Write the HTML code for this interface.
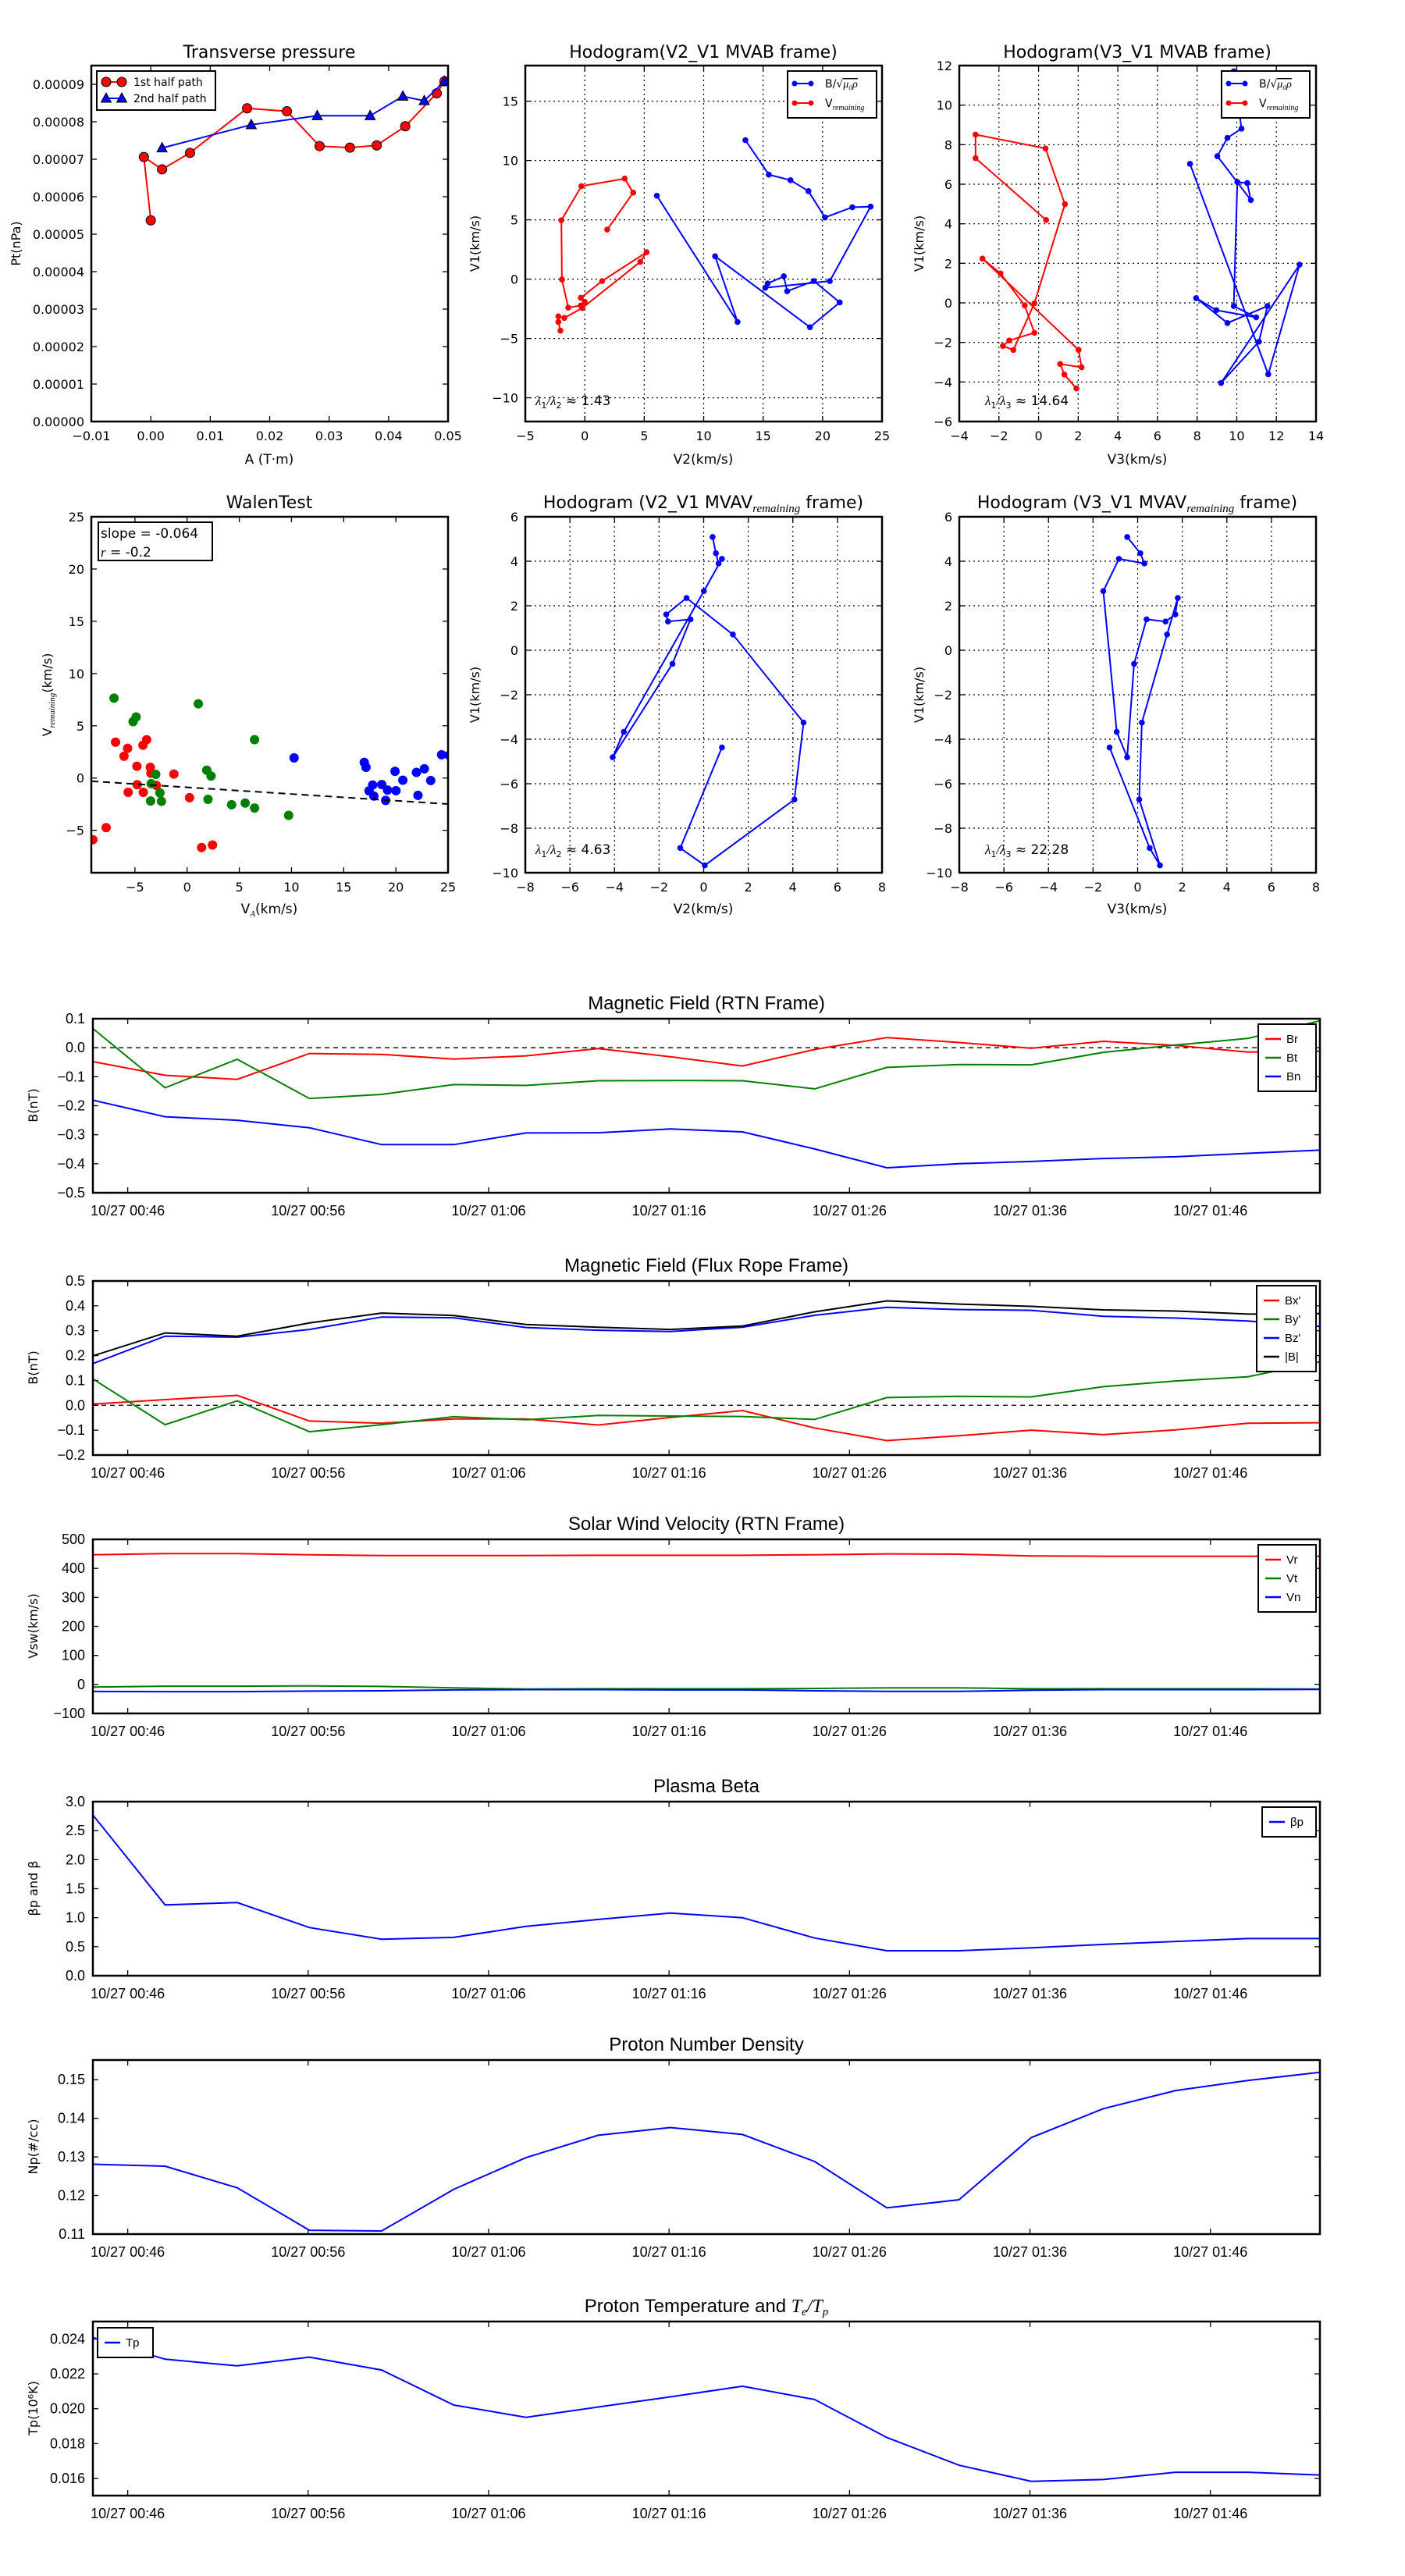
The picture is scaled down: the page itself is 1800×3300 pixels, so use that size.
<!DOCTYPE html>
<html>
<head>
<meta charset="utf-8">
<style>
html,body{margin:0;padding:0;background:#fff;}
svg{display:block;}
.t{font-family:"DejaVu Sans","Liberation Sans",sans-serif;fill:#000;}
.n{font-family:"Liberation Sans Narrow","Liberation Sans","DejaVu Sans",sans-serif;fill:#000;}
</style>
</head>
<body>
<svg id="fig" xmlns="http://www.w3.org/2000/svg" width="1800" height="3300" viewBox="0 0 1800 3300">
<rect x="0" y="0" width="1800" height="3300" fill="#fff"/>
</svg>
<script>
// ---------- Transverse pressure ----------
const ptRedA = [0.0000,-0.00116,0.0019,0.0066,0.0162,0.0229,0.0284,0.0335,0.0380,0.0428,0.0481,0.0494];
const ptRedP = [5.37e-5,7.06e-5,6.73e-5,7.17e-5,8.36e-5,8.28e-5,7.35e-5,7.31e-5,7.37e-5,7.88e-5,8.76e-5,9.08e-5];
const ptBlueA = [0.0019,0.0169,0.0280,0.0369,0.0424,0.0460,0.0494];
const ptBlueP = [7.30e-5,7.92e-5,8.16e-5,8.16e-5,8.68e-5,8.56e-5,9.08e-5];
const ptXTicks = [-0.01,0,0.01,0.02,0.03,0.04,0.05];
const ptXLabels = ["\u22120.01","0.00","0.01","0.02","0.03","0.04","0.05"];
const ptYTicks = [0,1e-5,2e-5,3e-5,4e-5,5e-5,6e-5,7e-5,8e-5,9e-5];
const ptYLabels = ["0.00000","0.00001","0.00002","0.00003","0.00004","0.00005","0.00006","0.00007","0.00008","0.00009"];
// ---------- Hodogram V2_V1 MVAB ----------
const h1BlueX = [6.06,12.85,10.96,18.94,21.44,19.27,17.02,16.74,15.38,15.18,20.61,24.04,22.50,20.20,18.81,17.30,15.48,13.51];
const h1BlueY = [7.03,-3.61,1.93,-4.05,-1.96,-0.16,-1.02,0.24,-0.37,-0.73,-0.16,6.11,6.06,5.20,7.42,8.34,8.81,11.71];
const h1RedX = [1.89,4.07,3.36,-0.28,-1.97,-1.92,-1.39,-0.33,0.00,-0.33,1.46,5.20,4.67,-0.20,-1.72,-2.22,-2.22,-2.05];
const h1RedY = [4.18,7.29,8.47,7.84,4.96,-0.03,-2.40,-2.22,-1.91,-1.57,-0.16,2.27,1.46,-2.43,-3.27,-3.14,-3.61,-4.34];
const h1XTicks = [-5,0,5,10,15,20,25];
const h1YTicks = [-10,-5,0,5,10,15];
// ---------- Hodogram V3_V1 MVAB ----------
const h2BlueX = [7.64,11.59,13.17,9.21,11.12,11.55,9.53,7.95,8.97,10.98,9.85,10.03,10.53,10.71,9.02,9.53,10.24,9.85];
const h2BlueY = [7.03,-3.61,1.93,-4.05,-1.96,-0.16,-1.02,0.24,-0.37,-0.73,-0.16,6.11,6.06,5.20,7.42,8.34,8.81,11.71];
const h2RedX = [0.38,-3.18,-3.18,0.35,1.33,-0.21,-1.27,-1.80,-1.48,-0.21,-0.70,-1.92,-2.83,2.02,2.17,1.09,1.30,1.91];
const h2RedY = [4.19,7.32,8.51,7.81,4.99,-0.02,-2.38,-2.18,-1.90,-1.51,-0.13,1.49,2.24,-2.38,-3.26,-3.09,-3.62,-4.33];
const h2XTicks = [-4,-2,0,2,4,6,8,10,12,14];
const h2YTicks = [-6,-4,-2,0,2,4,6,8,10,12];
// ---------- Walen test ----------
const wRedX = [-9.03,-7.76,-6.86,-5.70,-6.05,-4.81,-4.23,-3.88,-3.53,-3.47,-4.78,-5.65,-4.20,-2.95,-1.27,0.23,1.39,2.43];
const wRedY = [-5.90,-4.75,3.43,2.84,2.09,1.13,3.14,3.67,1.02,0.46,-0.64,-1.37,-1.37,-0.70,0.38,-1.88,-6.65,-6.41];
const wGreenX = [-7.01,-5.18,-4.89,-3.01,-3.45,-2.61,-2.46,-3.50,1.07,1.88,2.29,2.00,4.26,5.56,6.46,6.46,9.73];
const wGreenY = [7.64,5.39,5.84,0.35,-0.54,-1.42,-2.23,-2.20,7.10,0.75,0.19,-2.04,-2.55,-2.39,3.67,-2.87,-3.57];
const wBlueX = [10.25,16.97,17.14,17.78,17.43,17.89,18.65,19.02,19.20,19.92,20.01,20.67,21.97,22.12,22.73,23.34,24.38,25.1];
const wBlueY = [1.93,1.50,1.02,-0.67,-1.23,-1.72,-0.62,-2.14,-1.15,0.64,-1.21,-0.21,0.54,-1.66,0.88,-0.24,2.23,2.17];
const wSlope = [-0.064];
const wIntercept = [-0.89];
const wXTicks = [-5,0,5,10,15,20,25];
const wYTicks = [-5,0,5,10,15,20,25];
// ---------- Hodogram MVAV ----------
const h3X = [0.40,0.55,0.67,0.82,0.01,-3.58,-4.08,-1.40,-0.59,-1.60,-1.68,-0.77,1.31,4.48,4.07,0.05,-1.05,0.82];
const h3Y = [5.09,4.36,3.90,4.11,2.66,-3.67,-4.81,-0.61,1.39,1.29,1.61,2.35,0.71,-3.25,-6.71,-9.67,-8.89,-4.37];
const h4X = [-0.47,0.12,0.30,-0.84,-1.54,-0.94,-0.47,-0.16,0.40,1.25,1.69,1.80,1.32,0.19,0.07,1.00,0.54,-1.26];
const h4Y = [5.09,4.36,3.90,4.11,2.66,-3.67,-4.81,-0.61,1.39,1.29,1.61,2.35,0.71,-3.25,-6.71,-9.67,-8.89,-4.37];
const mvXTicks = [-8,-6,-4,-2,0,2,4,6,8];
const mvYTicks = [-10,-8,-6,-4,-2,0,2,4,6];
// ---------- Time series ----------
const tMinutes = [44.07,48.07,52.07,56.07,60.07,64.07,68.07,72.07,76.07,80.07,84.07,88.07,92.07,96.07,100.07,104.07,108.07,112.07];
const tTickMin = [46,56,66,76,86,96,106];
const tTickLabels = ["10/27 00:46","10/27 00:56","10/27 01:06","10/27 01:16","10/27 01:26","10/27 01:36","10/27 01:46"];
const br = [-0.048,-0.095,-0.109,-0.020,-0.023,-0.039,-0.028,-0.003,-0.031,-0.063,-0.006,0.035,0.018,-0.002,0.022,0.008,-0.015,-0.012];
const bt = [0.066,-0.138,-0.040,-0.175,-0.161,-0.127,-0.130,-0.114,-0.113,-0.114,-0.142,-0.068,-0.058,-0.059,-0.016,0.009,0.032,0.093];
const bn = [-0.181,-0.238,-0.250,-0.276,-0.334,-0.334,-0.294,-0.293,-0.280,-0.290,-0.349,-0.414,-0.400,-0.392,-0.382,-0.376,-0.364,-0.353];
const bx = [0.005,0.023,0.040,-0.063,-0.072,-0.055,-0.055,-0.079,-0.049,-0.021,-0.091,-0.142,-0.122,-0.100,-0.118,-0.099,-0.072,-0.070];
const by = [0.106,-0.078,0.018,-0.106,-0.078,-0.046,-0.058,-0.041,-0.043,-0.045,-0.057,0.031,0.036,0.034,0.075,0.098,0.115,0.175];
const bz = [0.168,0.278,0.274,0.305,0.355,0.352,0.313,0.302,0.297,0.314,0.362,0.394,0.385,0.382,0.358,0.351,0.339,0.317];
const bmag = [0.199,0.291,0.278,0.331,0.371,0.361,0.325,0.314,0.305,0.319,0.376,0.420,0.407,0.398,0.384,0.379,0.367,0.369];
const vr = [447,451,451,447,444,444,444,445,445,445,447,450,449,443,442,442,442,442];
const vt = [-9,-6,-6,-5,-7,-12,-16,-15,-15,-15,-14,-12,-12,-15,-15,-15,-15,-16];
const vn = [-24,-25,-25,-23,-22,-19,-18,-18,-19,-19,-22,-24,-24,-20,-18,-18,-18,-17];
const betaP = [2.77,1.22,1.26,0.83,0.63,0.66,0.85,0.97,1.08,1.00,0.65,0.43,0.43,0.48,0.54,0.59,0.64,0.64];
const np = [0.1281,0.1276,0.1220,0.1110,0.1108,0.1216,0.1298,0.1356,0.1376,0.1358,0.1288,0.1168,0.1189,0.1350,0.1425,0.1472,0.1498,0.1519];
const tp = [0.02408,0.02284,0.02246,0.02296,0.02222,0.02021,0.01951,0.02010,0.02068,0.02129,0.02053,0.01835,0.01676,0.01584,0.01594,0.01636,0.01636,0.01620];

const NS = "http://www.w3.org/2000/svg";
const root = document.getElementById('fig');
function add(parent, tag, attrs, text) {
  const e = document.createElementNS(NS, tag);
  for (const k in attrs) e.setAttribute(k, attrs[k]);
  if (text !== undefined) e.textContent = text;
  parent.appendChild(e);
  return e;
}
function mkAxes(x0,y0,x1,y1,xmin,xmax,ymin,ymax){
  return {x0,y0,x1,y1,xmin,xmax,ymin,ymax,
    sx:v=>x0+(v-xmin)/(xmax-xmin)*(x1-x0),
    sy:v=>y1-(v-ymin)/(ymax-ymin)*(y1-y0)};
}
function fmt(v){ return (v<0?"\u2212":"")+Math.abs(v); }

function drawAxes(g, a, xt, xl, yt, yl, o) {
  const cls = o.narrow ? 'n' : 't';
  const fs = o.fs || 16;
  if (o.grid) {
    for (const v of xt) {
      const X = a.sx(v);
      if (X <= a.x0+1 || X >= a.x1-1) continue;
      const l = add(g,'line',{x1:X,y1:a.y0,x2:X,y2:a.y1,stroke:'#000','stroke-width':1.2,'stroke-dasharray':'2,4'});
      
      
    }
    for (const v of yt) {
      const Y = a.sy(v);
      if (Y <= a.y0+1 || Y >= a.y1-1) continue;
      const l = add(g,'line',{x1:a.x0,y1:Y,x2:a.x1,y2:Y,stroke:'#000','stroke-width':1.2,'stroke-dasharray':'2,4'});
      
      
    }
  }
  const tl = 7;
  xt.forEach((v,i)=>{
    const X = a.sx(v);
    if (X < a.x0-0.5 || X > a.x1+0.5) return;
    const t1 = add(g,'line',{x1:X,y1:a.y1,x2:X,y2:a.y1-tl,stroke:'#000','stroke-width':1.3});
    
    
    const t2 = add(g,'line',{x1:X,y1:a.y0,x2:X,y2:a.y0+tl,stroke:'#000','stroke-width':1.3});
    
    
    const lb = add(g,'text',{x:X,y:a.y1+(o.xlOff||22),'text-anchor':'middle','font-size':fs,class:cls},xl[i]);
    
    
  });
  yt.forEach((v,i)=>{
    const Y = a.sy(v);
    if (Y < a.y0-0.5 || Y > a.y1+0.5) return;
    const t1 = add(g,'line',{x1:a.x0,y1:Y,x2:a.x0+tl,y2:Y,stroke:'#000','stroke-width':1.3});
    
    
    const t2 = add(g,'line',{x1:a.x1,y1:Y,x2:a.x1-tl,y2:Y,stroke:'#000','stroke-width':1.3});
    
    
    const lb = add(g,'text',{x:a.x0-(o.ylOff||7),y:Y+6,'text-anchor':'end','font-size':fs,class:cls},yl[i]);
    
    
  });
}
function drawFrame(g,a){
  const r = add(g,'rect',{x:a.x0,y:a.y0,width:a.x1-a.x0,height:a.y1-a.y0,fill:'none',stroke:'#000','stroke-width':2.5});
  
  
}
function clip(id,a){
  const defs = add(root,'defs',{});
  const cp = add(defs,'clipPath',{id:id});
  add(cp,'rect',{x:a.x0,y:a.y0,width:a.x1-a.x0,height:a.y1-a.y0});
  return 'url(#'+id+')';
}
function polyPts(a,xs,ys){ return xs.map((v,i)=>a.sx(v).toFixed(1)+','+a.sy(ys[i]).toFixed(1)).join(' '); }
function title(g,x,y,txt,fs,cls){
  const t = add(g,'text',{x:x,y:y,'text-anchor':'middle','font-size':fs,class:cls||'t'},txt);
  
  
  return t;
}
function ylabel(g,x,y,txt,fs,cls){
  const t = add(g,'text',{x:x,y:y,'text-anchor':'middle','font-size':fs,class:cls||'t',transform:'rotate(-90 '+x+' '+y+')'},txt);
  
  
  return t;
}
function xlabel(g,x,y,txt,fs){
  const t = add(g,'text',{x:x,y:y,'text-anchor':'middle','font-size':fs,class:'t'},txt);
  
  
  return t;
}

// ===== Panel 1: Transverse pressure =====
(function(){
  const g = add(root,'g',{});
  
  
  const a = mkAxes(117,84,574,540,-0.01,0.05,0,9.5e-5);
  title(g,345,74,'Transverse pressure',22);
  drawAxes(g,a,ptXTicks,ptXLabels,ptYTicks,ptYLabels,{fs:16,xlOff:24,ylOff:9});
  const cp = clip('c1',a);
  const dg = add(g,'g',{'clip-path':cp});
  const l1 = add(dg,'polyline',{points:polyPts(a,ptRedA,ptRedP),fill:'none',stroke:'#f00','stroke-width':2});
  
  
  ptRedA.forEach((v,i)=>{
    const c = add(dg,'circle',{cx:a.sx(v),cy:a.sy(ptRedP[i]),r:6,fill:'#f00',stroke:'#000','stroke-width':1});
    
    
  });
  const l2 = add(dg,'polyline',{points:polyPts(a,ptBlueA,ptBlueP),fill:'none',stroke:'#00f','stroke-width':2});
  
  
  ptBlueA.forEach((v,i)=>{
    const X=a.sx(v), Y=a.sy(ptBlueP[i]);
    const p = add(dg,'polygon',{points:`${X},${Y-7} ${X-6.5},${Y+5} ${X+6.5},${Y+5}`,fill:'#00f',stroke:'#000','stroke-width':1});
    
    
  });
  drawFrame(g,a);
  ylabel(g,26,312,'Pt(nPa)',16);
  xlabel(g,345,594,'A (T\u00b7m)',17);
  // legend
  const lg = add(g,'g',{});
  
  
  add(lg,'rect',{x:124,y:91,width:152,height:50,fill:'#fff',stroke:'#000','stroke-width':2});
  add(lg,'line',{x1:136,y1:105,x2:156,y2:105,stroke:'#f00','stroke-width':2});
  add(lg,'circle',{cx:136,cy:105,r:6,fill:'#f00',stroke:'#000','stroke-width':1});
  add(lg,'circle',{cx:156,cy:105,r:6,fill:'#f00',stroke:'#000','stroke-width':1});
  const e1 = add(lg,'text',{x:171,y:110,'font-size':14,class:'t'},'1st half path');
  
  
  add(lg,'line',{x1:136,y1:126,x2:156,y2:126,stroke:'#00f','stroke-width':2});
  add(lg,'polygon',{points:'136,119 129.5,131 142.5,131',fill:'#00f',stroke:'#000','stroke-width':1});
  add(lg,'polygon',{points:'156,119 149.5,131 162.5,131',fill:'#00f',stroke:'#000','stroke-width':1});
  const e2 = add(lg,'text',{x:171,y:131,'font-size':14,class:'t'},'2nd half path');
  
  
})();

function hodoLegend(g,x,y,w){
  const lg = add(g,'g',{});
  
  
  add(lg,'rect',{x:x,y:y,width:w,height:60,fill:'#fff',stroke:'#000','stroke-width':2});
  add(lg,'line',{x1:x+9,y1:y+16,x2:x+30,y2:y+16,stroke:'#00f','stroke-width':2});
  add(lg,'circle',{cx:x+9,cy:y+16,r:3.5,fill:'#00f'});
  add(lg,'circle',{cx:x+30,cy:y+16,r:3.5,fill:'#00f'});
  const t1 = add(lg,'text',{x:x+48,y:y+21,'font-size':14,class:'t'});
  
  
  add(t1,'tspan',{},'B/\u221a');
  add(t1,'tspan',{'font-style':'italic','font-family':'Liberation Serif, serif','text-decoration':'overline'},'\u03bc\u2080\u03c1');
  add(lg,'line',{x1:x+9,y1:y+41,x2:x+30,y2:y+41,stroke:'#f00','stroke-width':2});
  add(lg,'circle',{cx:x+9,cy:y+41,r:3.5,fill:'#f00'});
  add(lg,'circle',{cx:x+30,cy:y+41,r:3.5,fill:'#f00'});
  const t2 = add(lg,'text',{x:x+48,y:y+46,'font-size':14,class:'t'});
  
  
  add(t2,'tspan',{},'V');
  add(t2,'tspan',{'font-style':'italic','font-family':'Liberation Serif, serif','font-size':10,dy:4},'remaining');
}
function ratioText(g,x,y,sub,val){
  const t = add(g,'text',{x:x,y:y,'font-size':17,class:'t'});
  
  
  add(t,'tspan',{'font-style':'italic','font-family':'Liberation Serif, serif'},'\u03bb');
  add(t,'tspan',{'font-size':11,dy:4},'1');
  add(t,'tspan',{'font-style':'italic','font-family':'Liberation Serif, serif',dy:-4},'/\u03bb');
  add(t,'tspan',{'font-size':11,dy:4},sub);
  add(t,'tspan',{dy:-4},' \u2248 '+val);
}
function hodoSeries(dg,a,xs,ys,color,name){
  const l = add(dg,'polyline',{points:polyPts(a,xs,ys),fill:'none',stroke:color,'stroke-width':2});
  
  
  xs.forEach((v,i)=>{
    const c = add(dg,'circle',{cx:a.sx(v),cy:a.sy(ys[i]),r:3.8,fill:color});
    
    
  });
}
function titleSub(g,x,y,pre,post){
  const t = add(g,'text',{x:x,y:y,'text-anchor':'middle','font-size':22,class:'t'});
  
  
  add(t,'tspan',{},pre);
  add(t,'tspan',{'font-style':'italic','font-family':'Liberation Serif, serif','font-size':15,dy:5},'remaining');
  add(t,'tspan',{dy:-5},post);
}

// ===== Panel 2: Hodogram V2_V1 MVAB =====
(function(){
  const g = add(root,'g',{});
  
  
  const a = mkAxes(673,84,1130,540,-5,25,-12,18);
  title(g,901,74,'Hodogram(V2_V1 MVAB frame)',22);
  drawAxes(g,a,h1XTicks,h1XTicks.map(fmt),h1YTicks,h1YTicks.map(fmt),{fs:16,grid:true,xlOff:24,ylOff:9});
  const dg = add(g,'g',{'clip-path':clip('c2',a)});
  hodoSeries(dg,a,h1BlueX,h1BlueY,'#00f','b-alfven');
  hodoSeries(dg,a,h1RedX,h1RedY,'#f00','v-remaining');
  drawFrame(g,a);
  ratioText(g,686,519,'2','1.43');
  hodoLegend(g,1009,91,114);
  ylabel(g,614,312,'V1(km/s)',16);
  xlabel(g,901,594,'V2(km/s)',17);
})();

// ===== Panel 3: Hodogram V3_V1 MVAB =====
(function(){
  const g = add(root,'g',{});
  
  
  const a = mkAxes(1229,84,1686,540,-4,14,-6,12);
  title(g,1457,74,'Hodogram(V3_V1 MVAB frame)',22);
  drawAxes(g,a,h2XTicks,h2XTicks.map(fmt),h2YTicks,h2YTicks.map(fmt),{fs:16,grid:true,xlOff:24,ylOff:9});
  const dg = add(g,'g',{'clip-path':clip('c3',a)});
  hodoSeries(dg,a,h2BlueX,h2BlueY,'#00f','b-alfven');
  hodoSeries(dg,a,h2RedX,h2RedY,'#f00','v-remaining');
  drawFrame(g,a);
  ratioText(g,1262,519,'3','14.64');
  hodoLegend(g,1565,91,113);
  ylabel(g,1183,312,'V1(km/s)',16);
  xlabel(g,1457,594,'V3(km/s)',17);
})();

// ===== Panel 4: Walen test =====
(function(){
  const g = add(root,'g',{});
  
  
  const a = mkAxes(117,662,574,1118,-9.18,25,-9.06,25);
  title(g,345,651,'WalenTest',22);
  drawAxes(g,a,wXTicks,wXTicks.map(fmt),wYTicks,wYTicks.map(fmt),{fs:16,xlOff:24,ylOff:9});
  const dg = add(g,'g',{'clip-path':clip('c4',a)});
  const pts = [[wRedX,wRedY,'#f00','red'],[wGreenX,wGreenY,'#008000','green'],[wBlueX,wBlueY,'#00f','blue']];
  pts.forEach(s=>{
    s[0].forEach((v,i)=>{
      const c = add(dg,'circle',{cx:a.sx(v),cy:a.sy(s[1][i]),r:6,fill:s[2]});
      
      
    });
  });
  const fl = add(dg,'line',{x1:a.sx(a.xmin),y1:a.sy(wSlope[0]*a.xmin+wIntercept[0]),x2:a.sx(a.xmax),y2:a.sy(wSlope[0]*a.xmax+wIntercept[0]),stroke:'#000','stroke-width':2,'stroke-dasharray':'9,6'});
  
  
  drawFrame(g,a);
  const bx_ = add(g,'g',{});
  
  
  add(bx_,'rect',{x:126,y:669,width:146,height:49,fill:'#fff',stroke:'#000','stroke-width':2});
  add(bx_,'text',{x:129,y:689,'font-size':17,class:'t'},'slope = -0.064');
  const r = add(bx_,'text',{x:129,y:713,'font-size':17,class:'t'});
  add(r,'tspan',{'font-style':'italic','font-family':'Liberation Serif, serif'},'r');
  add(r,'tspan',{},' = -0.2');
  const yl = add(g,'text',{x:66,y:890,'text-anchor':'middle','font-size':16,class:'t',transform:'rotate(-90 66 890)'});
  
  
  add(yl,'tspan',{},'V');
  add(yl,'tspan',{'font-style':'italic','font-family':'Liberation Serif, serif','font-size':11,dy:4},'remaining');
  add(yl,'tspan',{dy:-4},'(km/s)');
  const xl = add(g,'text',{x:345,y:1170,'text-anchor':'middle','font-size':17,class:'t'});
  
  
  add(xl,'tspan',{},'V');
  add(xl,'tspan',{'font-style':'italic','font-family':'Liberation Serif, serif','font-size':11,dy:4},'A');
  add(xl,'tspan',{dy:-4},'(km/s)');
})();

// ===== Panels 5,6: MVAV hodograms =====
(function(){
  const cfg = [[673,'hodogram-v2-v1-mvav-chart','Hodogram (V2_V1 MVAV',h3X,h3Y,'2','4.63','V2(km/s)',614,686],
               [1229,'hodogram-v3-v1-mvav-chart','Hodogram (V3_V1 MVAV',h4X,h4Y,'3','22.28','V3(km/s)',1183,1262]];
  cfg.forEach((c,k)=>{
    const g = add(root,'g',{});
    
    
    const a = mkAxes(c[0],662,c[0]+457,1118,-8,8,-10,6);
    titleSub(g,c[0]+228,651,c[2],' frame)');
    drawAxes(g,a,mvXTicks,mvXTicks.map(fmt),mvYTicks,mvYTicks.map(fmt),{fs:16,grid:true,xlOff:24,ylOff:9});
    const dg = add(g,'g',{'clip-path':clip('c5'+k,a)});
    hodoSeries(dg,a,c[3],c[4],'#00f','v-remaining');
    drawFrame(g,a);
    ratioText(g,c[9],1094,c[5],c[6]);
    ylabel(g,c[8],890,'V1(km/s)',16);
    xlabel(g,c[0]+228,1170,c[7],17);
  });
})();

// ===== Time series panels =====
function tsPanel(name,y0,ymin,ymax,yt,yl,ttl,ylab,series,legend,zero){
  const g = add(root,'g',{});
  
  
  const a = mkAxes(119,y0,1691,y0+223,tMinutes[0],tMinutes[tMinutes.length-1],ymin,ymax);
  if (typeof ttl === 'string') title(g,905,y0-12,ttl,24,'n'); else ttl(g,y0);
  drawAxes(g,a,tTickMin,tTickLabels,yt,yl,{fs:18,narrow:true,xlOff:29,ylOff:10});
  const dg = add(g,'g',{'clip-path':clip('ct'+y0,a)});
  if (zero) {
    const z = add(dg,'line',{x1:a.x0,y1:a.sy(0),x2:a.x1,y2:a.sy(0),stroke:'#000','stroke-width':1.3,'stroke-dasharray':'6,5'});
    
    
  }
  series.forEach(s=>{
    const l = add(dg,'polyline',{points:polyPts(a,tMinutes,s[0]),fill:'none',stroke:s[1],'stroke-width':2});
    
    
  });
  drawFrame(g,a);
  ylabel(g,48,y0+111,ylab,16);
  if (legend) {
    const lg = add(g,'g',{});
    
    
    const [lx,ly,lw] = legend.box;
    const h = legend.items.length*24+14;
    add(lg,'rect',{x:lx,y:ly,width:lw,height:h,fill:'#fff',stroke:'#000','stroke-width':2});
    legend.items.forEach((it,i)=>{
      const yy = ly+19+i*24;
      add(lg,'line',{x1:lx+9,y1:yy,x2:lx+29,y2:yy,stroke:it[1],'stroke-width':2.5});
      const t = add(lg,'text',{x:lx+36,y:yy+5,'font-size':15,class:'n'},it[0]);
      
      
    });
  }
}
tsPanel('magnetic-field-rtn-chart',1305,-0.5,0.1,[-0.5,-0.4,-0.3,-0.2,-0.1,0,0.1],["\u22120.5","\u22120.4","\u22120.3","\u22120.2","\u22120.1","0.0","0.1"],
  'Magnetic Field (RTN Frame)','B(nT)',[[br,'#f00','br'],[bt,'#008000','bt'],[bn,'#00f','bn']],
  {box:[1612,1312,74],items:[['Br','#f00'],['Bt','#008000'],['Bn','#00f']]},true);
tsPanel('magnetic-field-flux-rope-chart',1641,-0.2,0.5,[-0.2,-0.1,0,0.1,0.2,0.3,0.4,0.5],["\u22120.2","\u22120.1","0.0","0.1","0.2","0.3","0.4","0.5"],
  'Magnetic Field (Flux Rope Frame)','B(nT)',[[bx,'#f00','bx-prime'],[by,'#008000','by-prime'],[bz,'#00f','bz-prime'],[bmag,'#000','b-magnitude']],
  {box:[1610,1647,76],items:[["Bx'",'#f00'],["By'",'#008000'],["Bz'",'#00f'],['|B|','#000']]},true);
tsPanel('solar-wind-velocity-chart',1972,-100,500,[-100,0,100,200,300,400,500],["\u2212100","0","100","200","300","400","500"],
  'Solar Wind Velocity (RTN Frame)','Vsw(km/s)',[[vr,'#f00','vr'],[vt,'#008000','vt'],[vn,'#00f','vn']],
  {box:[1612,1979,74],items:[['Vr','#f00'],['Vt','#008000'],['Vn','#00f']]},false);
tsPanel('plasma-beta-chart',2308,0,3,[0,0.5,1,1.5,2,2.5,3],["0.0","0.5","1.0","1.5","2.0","2.5","3.0"],
  'Plasma Beta','\u03b2p and \u03b2',[[betaP,'#00f','beta-p']],
  {box:[1617,2315,69],items:[['\u03b2p','#00f']]},false);
tsPanel('proton-density-chart',2639,0.11,0.1551,[0.11,0.12,0.13,0.14,0.15],["0.11","0.12","0.13","0.14","0.15"],
  'Proton Number Density','Np(#/cc)',[[np,'#00f','np']],null,false);
tsPanel('proton-temperature-chart',2974,0.01502,0.025,[0.016,0.018,0.020,0.022,0.024],["0.016","0.018","0.020","0.022","0.024"],
  function(g,y0){
    const t = add(g,'text',{x:905,y:y0-12,'text-anchor':'middle','font-size':24,class:'n'});
    
    
    add(t,'tspan',{},'Proton Temperature and ');
    add(t,'tspan',{'font-style':'italic','font-family':'Liberation Serif, serif'},'T');
    add(t,'tspan',{'font-style':'italic','font-family':'Liberation Serif, serif','font-size':15,dy:4},'e');
    add(t,'tspan',{'font-style':'italic','font-family':'Liberation Serif, serif',dy:-4},'/T');
    add(t,'tspan',{'font-style':'italic','font-family':'Liberation Serif, serif','font-size':15,dy:4},'p');
  },
  'Tp(10\u2076K)',[[tp,'#00f','tp']],
  {box:[125,2982,71],items:[['Tp','#00f']]},false);
</script>
</body>
</html>
